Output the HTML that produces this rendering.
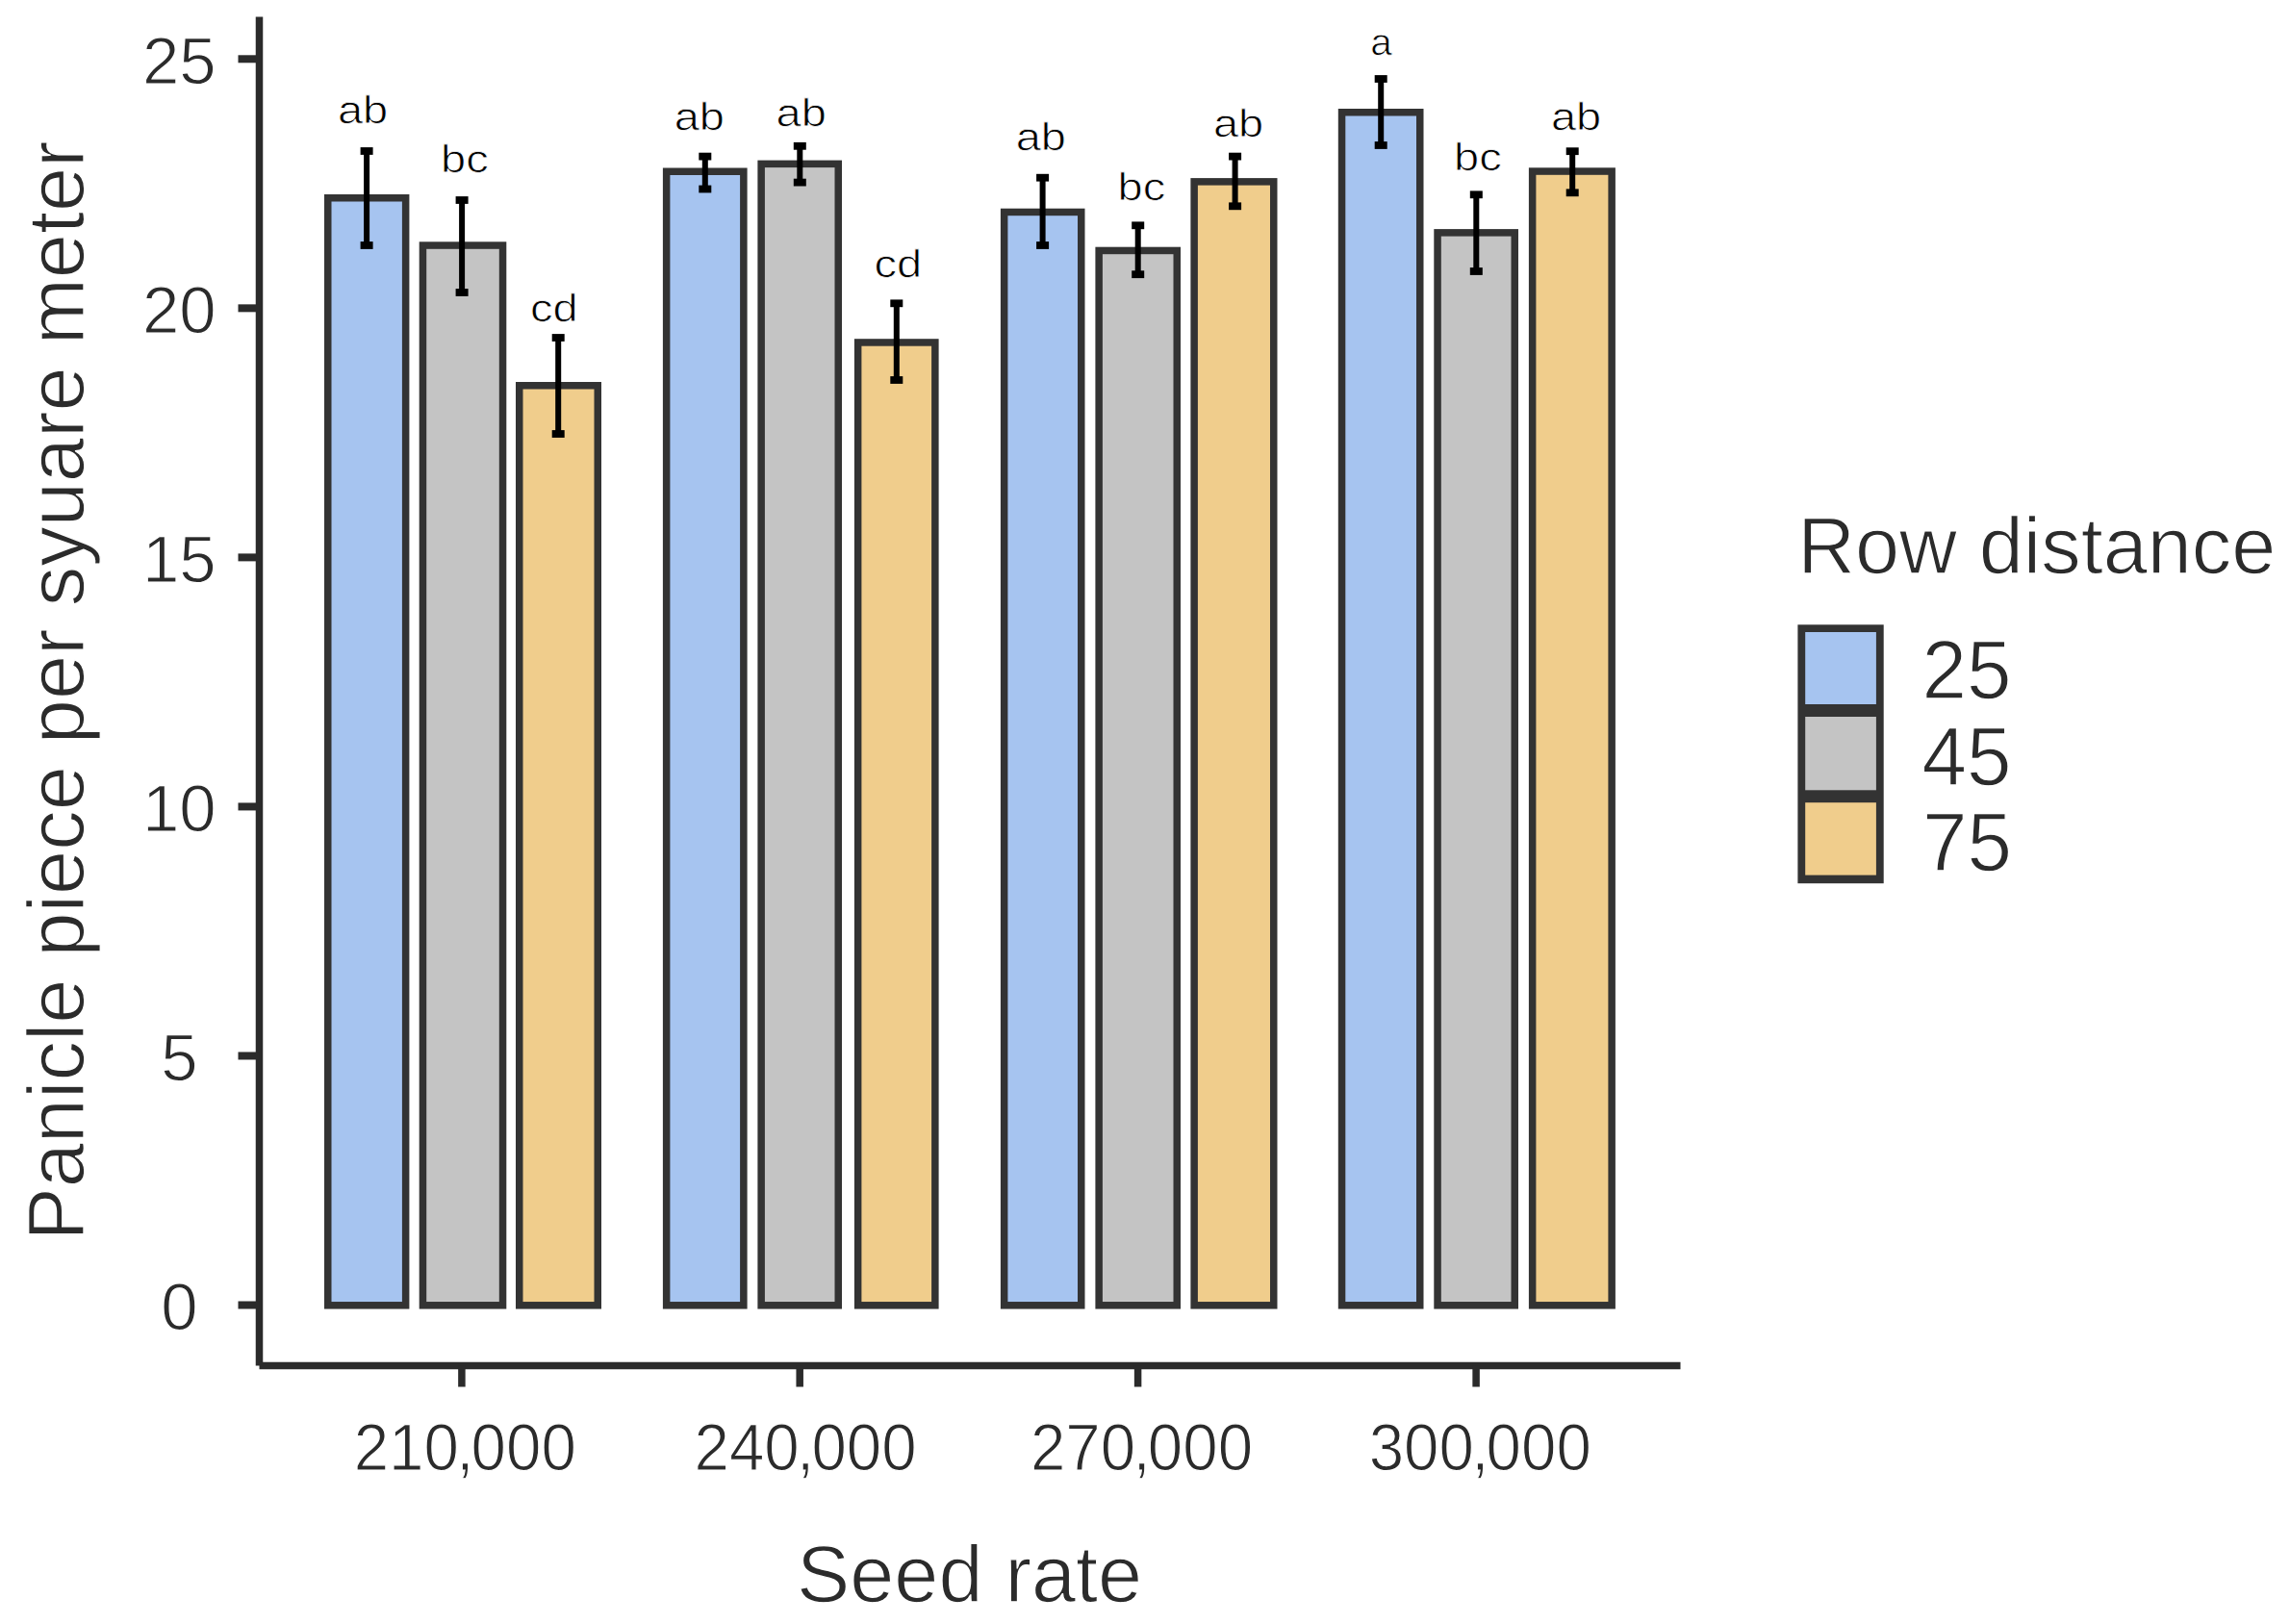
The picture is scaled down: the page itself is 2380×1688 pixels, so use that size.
<!DOCTYPE html>
<html><head><meta charset="utf-8"><title>Panicle piece per square meter</title>
<style>
html,body{margin:0;padding:0;background:#fff;}
body{width:2380px;height:1688px;overflow:hidden;}
svg{display:block;font-family:'Liberation Sans', Arial, sans-serif;text-rendering:geometricPrecision;}
</style></head><body>
<svg width="2380" height="1688" viewBox="0 0 2380 1688">
<rect width="2380" height="1688" fill="#ffffff"/>
<rect x="340.75" y="205.75" width="80.9" height="1151.05" fill="#a6c4f0" stroke="#333333" stroke-width="7.5"/>
<rect x="439.45" y="255.05" width="83.1" height="1101.75" fill="#c4c4c4" stroke="#333333" stroke-width="7.5"/>
<rect x="539.75" y="400.75" width="81.5" height="956.05" fill="#f0cd8c" stroke="#333333" stroke-width="7.5"/>
<rect x="692.65" y="178.25" width="80.2" height="1178.55" fill="#a6c4f0" stroke="#333333" stroke-width="7.5"/>
<rect x="791.15" y="170.35" width="80.1" height="1186.45" fill="#c4c4c4" stroke="#333333" stroke-width="7.5"/>
<rect x="891.65" y="355.95" width="80.2" height="1000.85" fill="#f0cd8c" stroke="#333333" stroke-width="7.5"/>
<rect x="1043.65" y="220.45" width="80.1" height="1136.35" fill="#a6c4f0" stroke="#333333" stroke-width="7.5"/>
<rect x="1142.15" y="260.45" width="81.1" height="1096.35" fill="#c4c4c4" stroke="#333333" stroke-width="7.5"/>
<rect x="1241.15" y="188.85" width="82.6" height="1167.95" fill="#f0cd8c" stroke="#333333" stroke-width="7.5"/>
<rect x="1394.55" y="116.75" width="81.2" height="1240.05" fill="#a6c4f0" stroke="#333333" stroke-width="7.5"/>
<rect x="1494.05" y="241.85" width="80.2" height="1114.95" fill="#c4c4c4" stroke="#333333" stroke-width="7.5"/>
<rect x="1592.65" y="178.05" width="82.5" height="1178.75" fill="#f0cd8c" stroke="#333333" stroke-width="7.5"/>
<rect x="378.1" y="157" width="6" height="98" fill="#000"/>
<rect x="374.6" y="153.1" width="13" height="7.8" fill="#000"/>
<rect x="374.6" y="251.1" width="13" height="7.8" fill="#000"/>
<rect x="477.1" y="208" width="6" height="96" fill="#000"/>
<rect x="473.6" y="204.1" width="13" height="7.8" fill="#000"/>
<rect x="473.6" y="300.1" width="13" height="7.8" fill="#000"/>
<rect x="577.2" y="351" width="6" height="100" fill="#000"/>
<rect x="573.7" y="347.1" width="13" height="7.8" fill="#000"/>
<rect x="573.7" y="447.1" width="13" height="7.8" fill="#000"/>
<rect x="729.8" y="162.6" width="6" height="33.9" fill="#000"/>
<rect x="726.3" y="158.7" width="13" height="7.8" fill="#000"/>
<rect x="726.3" y="192.6" width="13" height="7.8" fill="#000"/>
<rect x="828.3" y="151.8" width="6" height="37.8" fill="#000"/>
<rect x="824.8" y="147.9" width="13" height="7.8" fill="#000"/>
<rect x="824.8" y="185.7" width="13" height="7.8" fill="#000"/>
<rect x="928.8" y="315.3" width="6" height="79.7" fill="#000"/>
<rect x="925.3" y="311.4" width="13" height="7.8" fill="#000"/>
<rect x="925.3" y="391.1" width="13" height="7.8" fill="#000"/>
<rect x="1080.6" y="184.7" width="6" height="70.3" fill="#000"/>
<rect x="1077.1" y="180.8" width="13" height="7.8" fill="#000"/>
<rect x="1077.1" y="251.1" width="13" height="7.8" fill="#000"/>
<rect x="1179.7" y="234.3" width="6" height="50.9" fill="#000"/>
<rect x="1176.2" y="230.4" width="13" height="7.8" fill="#000"/>
<rect x="1176.2" y="281.3" width="13" height="7.8" fill="#000"/>
<rect x="1280.6" y="162.6" width="6" height="51.7" fill="#000"/>
<rect x="1277.1" y="158.7" width="13" height="7.8" fill="#000"/>
<rect x="1277.1" y="210.4" width="13" height="7.8" fill="#000"/>
<rect x="1432.2" y="82" width="6" height="69" fill="#000"/>
<rect x="1428.7" y="78.1" width="13" height="7.8" fill="#000"/>
<rect x="1428.7" y="147.1" width="13" height="7.8" fill="#000"/>
<rect x="1531.3" y="202.3" width="6" height="79.7" fill="#000"/>
<rect x="1527.8" y="198.4" width="13" height="7.8" fill="#000"/>
<rect x="1527.8" y="278.1" width="13" height="7.8" fill="#000"/>
<rect x="1631.2" y="157.2" width="6" height="43.1" fill="#000"/>
<rect x="1627.7" y="153.3" width="13" height="7.8" fill="#000"/>
<rect x="1627.7" y="196.4" width="13" height="7.8" fill="#000"/>
<line x1="269.5" y1="17.5" x2="269.5" y2="1419.5" stroke="#2b2b2b" stroke-width="7.5"/>
<line x1="269.5" y1="1419.5" x2="1746.5" y2="1419.5" stroke="#2b2b2b" stroke-width="7.5"/>
<line x1="247.5" y1="1356.5" x2="269.5" y2="1356.5" stroke="#2b2b2b" stroke-width="8"/>
<line x1="247.5" y1="1097.46" x2="269.5" y2="1097.46" stroke="#2b2b2b" stroke-width="8"/>
<line x1="247.5" y1="838.42" x2="269.5" y2="838.42" stroke="#2b2b2b" stroke-width="8"/>
<line x1="247.5" y1="579.38" x2="269.5" y2="579.38" stroke="#2b2b2b" stroke-width="8"/>
<line x1="247.5" y1="320.34" x2="269.5" y2="320.34" stroke="#2b2b2b" stroke-width="8"/>
<line x1="247.5" y1="61.3" x2="269.5" y2="61.3" stroke="#2b2b2b" stroke-width="8"/>
<line x1="479.9" y1="1419.5" x2="479.9" y2="1441.5" stroke="#2b2b2b" stroke-width="7.5"/>
<line x1="831.2" y1="1419.5" x2="831.2" y2="1441.5" stroke="#2b2b2b" stroke-width="7.5"/>
<line x1="1182.6" y1="1419.5" x2="1182.6" y2="1441.5" stroke="#2b2b2b" stroke-width="7.5"/>
<line x1="1534.1" y1="1419.5" x2="1534.1" y2="1441.5" stroke="#2b2b2b" stroke-width="7.5"/>
<rect x="1868.4" y="649.3" width="89.3" height="268.9" fill="#333333"/>
<rect x="1876.2" y="657.0" width="73.7" height="75" fill="#a6c4f0"/>
<rect x="1876.2" y="745.0" width="73.7" height="76.3" fill="#c4c4c4"/>
<rect x="1876.2" y="834.2" width="73.7" height="75.4" fill="#f0cd8c"/>
<text transform="translate(186.30,1382.27) scale(1.0000,1)" font-size="68.97" fill="#2b2b2b" stroke="#fff" stroke-width="1.2" text-anchor="middle">0</text>
<text transform="translate(186.30,1123.23) scale(1.0000,1)" font-size="68.97" fill="#2b2b2b" stroke="#fff" stroke-width="1.2" text-anchor="middle">5</text>
<text transform="translate(186.30,864.19) scale(1.0000,1)" font-size="68.97" fill="#2b2b2b" stroke="#fff" stroke-width="1.2" text-anchor="middle">10</text>
<text transform="translate(186.30,605.15) scale(1.0000,1)" font-size="68.97" fill="#2b2b2b" stroke="#fff" stroke-width="1.2" text-anchor="middle">15</text>
<text transform="translate(186.30,346.11) scale(1.0000,1)" font-size="68.97" fill="#2b2b2b" stroke="#fff" stroke-width="1.2" text-anchor="middle">20</text>
<text transform="translate(186.30,87.07) scale(1.0000,1)" font-size="68.97" fill="#2b2b2b" stroke="#fff" stroke-width="1.2" text-anchor="middle">25</text>
<text transform="translate(367.66,1527.56) scale(0.9494,1)" font-size="68.97" fill="#2b2b2b" stroke="#fff" stroke-width="1.2">210<tspan dx="-2.9">,</tspan><tspan dx="-2.9">000</tspan></text>
<text transform="translate(721.49,1527.57) scale(0.9494,1)" font-size="68.97" fill="#2b2b2b" stroke="#fff" stroke-width="1.2">240<tspan dx="-2.9">,</tspan><tspan dx="-2.9">000</tspan></text>
<text transform="translate(1070.88,1527.57) scale(0.9494,1)" font-size="68.97" fill="#2b2b2b" stroke="#fff" stroke-width="1.2">270<tspan dx="-2.9">,</tspan><tspan dx="-2.9">000</tspan></text>
<text transform="translate(1422.68,1527.97) scale(0.9494,1)" font-size="68.97" fill="#2b2b2b" stroke="#fff" stroke-width="1.2">300<tspan dx="-2.9">,</tspan><tspan dx="-2.9">000</tspan></text>
<text transform="translate(828.09,1664.57) scale(0.9898,1)" font-size="83.65" fill="#2b2b2b" stroke="#fff" stroke-width="1.3">Seed rate</text>
<text transform="translate(87.40,1289.57) rotate(-90) scale(0.9955,1)" font-size="83.32" fill="#2b2b2b" stroke="#fff" stroke-width="1.3">Panicle piece per syuare meter</text>
<text transform="translate(1868.15,595.59) scale(0.9921,1)" font-size="83.47" fill="#2b2b2b" stroke="#fff" stroke-width="1.3">Row distance</text>
<text transform="translate(1997.57,726.14) scale(0.9667,1)" font-size="86.52" fill="#2b2b2b" stroke="#fff" stroke-width="1.3">25</text>
<text transform="translate(1997.57,815.61) scale(0.9667,1)" font-size="86.52" fill="#2b2b2b" stroke="#fff" stroke-width="1.3">45</text>
<text transform="translate(1997.94,905.24) scale(0.9667,1)" font-size="86.52" fill="#2b2b2b" stroke="#fff" stroke-width="1.3">75</text>
<text transform="translate(350.98,128.45) scale(1.1685,1)" font-size="40.23" fill="#000" stroke="#fff" stroke-width="0.8">ab</text>
<text transform="translate(457.99,179.38) scale(1.1685,1)" font-size="40.23" fill="#000" stroke="#fff" stroke-width="0.8">bc</text>
<text transform="translate(551.10,333.83) scale(1.1685,1)" font-size="40.23" fill="#000" stroke="#fff" stroke-width="0.8">cd</text>
<text transform="translate(700.73,134.51) scale(1.1685,1)" font-size="40.23" fill="#000" stroke="#fff" stroke-width="0.8">ab</text>
<text transform="translate(806.62,131.32) scale(1.1685,1)" font-size="40.23" fill="#000" stroke="#fff" stroke-width="0.8">ab</text>
<text transform="translate(908.45,288.08) scale(1.1685,1)" font-size="40.23" fill="#000" stroke="#fff" stroke-width="0.8">cd</text>
<text transform="translate(1055.66,155.61) scale(1.1685,1)" font-size="40.23" fill="#000" stroke="#fff" stroke-width="0.8">ab</text>
<text transform="translate(1161.61,208.26) scale(1.1685,1)" font-size="40.23" fill="#000" stroke="#fff" stroke-width="0.8">bc</text>
<text transform="translate(1260.89,142.49) scale(1.1685,1)" font-size="40.23" fill="#000" stroke="#fff" stroke-width="0.8">ab</text>
<text transform="translate(1424.30,56.59) scale(1.0452,1)" font-size="38.75" fill="#000" stroke="#fff" stroke-width="0.8">a</text>
<text transform="translate(1510.99,176.57) scale(1.1685,1)" font-size="40.23" fill="#000" stroke="#fff" stroke-width="0.8">bc</text>
<text transform="translate(1611.96,134.55) scale(1.1685,1)" font-size="40.23" fill="#000" stroke="#fff" stroke-width="0.8">ab</text>
</svg>
</body></html>
